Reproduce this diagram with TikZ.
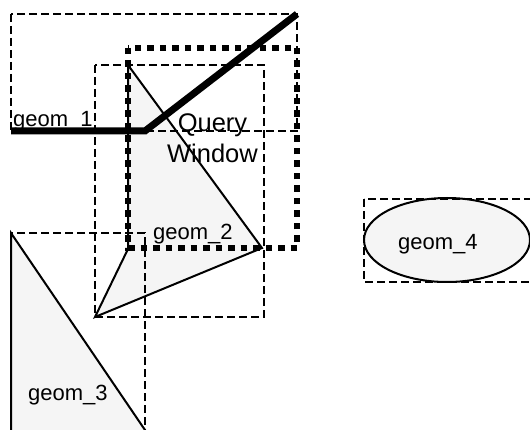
\documentclass[tikz,border=0pt]{standalone}
\usepackage{fontspec}
\setmainfont{Liberation Sans}
\tikzset{
  mbr/.style={draw,line width=2pt,dash pattern=on 8pt off 4pt},
  shapefill/.style={draw,line width=2pt,fill=black!4},
  querybox/.style={draw,line width=6.5pt,dash pattern=on 6.5pt off 6pt},
  linegeom/.style={draw,line width=7pt,line join=miter},
  geomlabel/.style={inner sep=0pt,anchor=base west,font=\fontsize{22}{26}\selectfont}
}
\begin{document}
\begin{tikzpicture}[x=1pt,y=-1pt]
  \useasboundingbox (0,0) rectangle (530,430);
  \clip (0,0) rectangle (530,430);
  % filled geometries
  \draw[shapefill] (128,65) -- (262,248) -- (95,317) -- (128,249) -- cycle;
  \draw[shapefill] (11,233) -- (11,460) -- (165.4,460) -- cycle;
  \draw[shapefill] (447,240) ellipse (83 and 42);
  % bounding rectangles
  \draw[mbr] (11,14) rectangle (297,131);
  \draw[mbr] (95,65) rectangle (264,317);
  \draw[mbr] (11,233) rectangle (145,460);
  \draw[mbr] (364,199) rectangle (545,282);
  % geom_1 line
  \draw[linegeom] (11,131) -- (145,131) -- (297,14);
  % query window
  \draw[querybox] (128,48) rectangle (297,248);
  \node[geomlabel] (g1label) at (13,127) {geom\_1};
  \node[geomlabel] (g2label) at (153,240) {geom\_2};
  \node[geomlabel] (g3label) at (28,400) {geom\_3};
  \node[geomlabel] (g4label) at (398,250) {geom\_4};
  \node[inner sep=0pt,anchor=base,align=center,font=\fontsize{25.5}{31}\selectfont] (qlabel) at (212.5,163) {Query\\Window};
\end{tikzpicture}
\end{document}
